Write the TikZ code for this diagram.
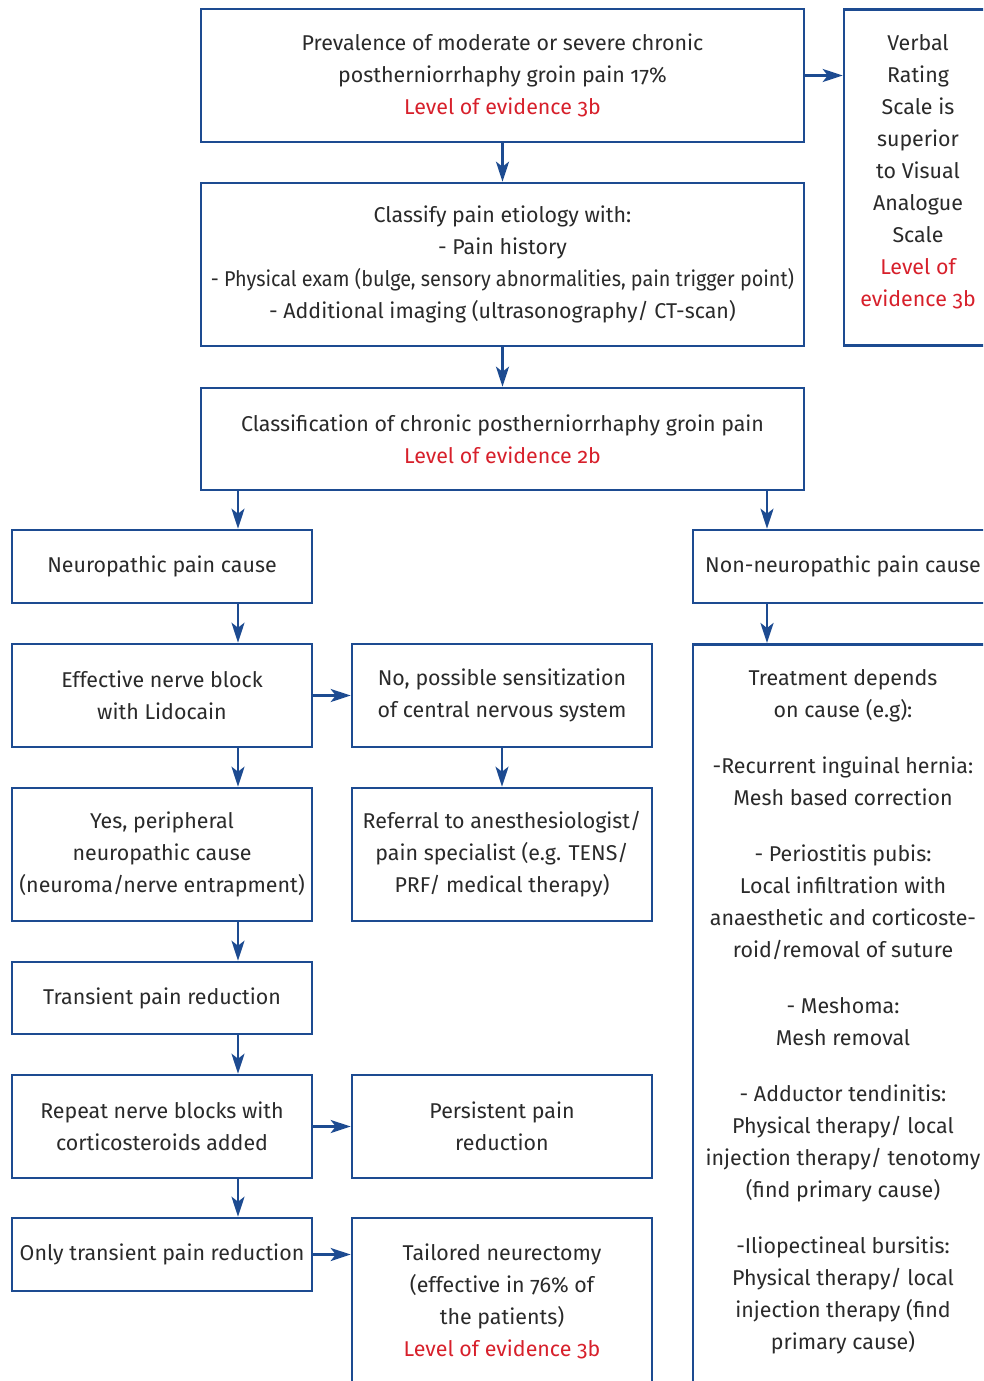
\documentclass[tikz,border=0pt]{standalone}
\usepackage{fontspec}
\setmainfont{Fira Sans}[Numbers=OldStyle]
\usetikzlibrary{arrows.meta,positioning}
\definecolor{flowblue}{HTML}{1D4B91}
\definecolor{evred}{HTML}{D7202B}
\definecolor{txtgray}{HTML}{2A2A2A}
\newcommand{\evid}[1]{\textcolor{evred}{#1}}
\tikzstyle{box} = [draw=flowblue, line width=2.6pt, rectangle, align=center, text=txtgray, inner sep=0pt, font=\fontsize{21.4}{32}\selectfont]
\tikzstyle{link} = [draw=flowblue, line width=2.6pt, -{Stealth[length=20pt,width=13pt,inset=5pt]}]

\begin{document}
\begin{tikzpicture}[x=1pt,y=-1pt]
        \useasboundingbox (0,0) rectangle (983,1381);
        \clip (0,0) rectangle (983,1381);

        \node[box, minimum width=603, minimum height=133] (prev) at (502.5,75.5) {Prevalence of moderate or severe chronic\\ postherniorrhaphy groin pain 17\%\\ \evid{Level of evidence 3b}};
        \node[box, minimum width=148, anchor=north, inner ysep=25pt, text depth=14pt] (vrs) at (918,8) {Verbal\\ Rating\\ Scale is\\ superior\\ to Visual\\ Analogue\\ Scale\\ \evid{Level of}\\ \evid{evidence 3b}};
        \node[box, minimum width=603, minimum height=163] (classify) at (502.5,264.5) {Classify pain etiology with:\\ - Pain history\\ \scalebox{0.925}[1]{- Physical exam (bulge, sensory abnormalities, pain trigger point)}\\ - Additional imaging (ultrasonography/ CT-scan)};
        \node[box, minimum width=603, minimum height=102] (classif) at (502.5,439) {Classification of chronic postherniorrhaphy groin pain\\ \evid{Level of evidence 2b}};

        \node[box, minimum width=300, minimum height=73] (neuro) at (162,566.5) {Neuropathic pain cause};
        \node[box, minimum width=300, minimum height=73] (nonneuro) at (843,566.5) {Non-neuropathic pain cause};

        \node[box, minimum width=300, minimum height=103] (effect) at (162,695.5) {Effective nerve block\\ with Lidocain};
        \node[box, minimum width=300, minimum height=103] (nosens) at (502,695.5) {No, possible sensitization\\ of central nervous system};
        \node[box, minimum width=300, minimum height=133] (yesper) at (162,854.5) {Yes, peripheral\\ neuropathic cause\\ (neuroma/nerve entrapment)};
        \node[box, minimum width=300, minimum height=133] (referral) at (502,854.5) {Referral to anesthesiologist/\\ pain specialist (e.g. TENS/\\ PRF/ medical therapy)};
        \node[box, minimum width=300, minimum height=72] (transient) at (162,998) {Transient pain reduction};
        \node[box, minimum width=300, minimum height=103] (repeat) at (162,1126.5) {Repeat nerve blocks with\\ corticosteroids added};
        \node[box, minimum width=300, minimum height=103] (persist) at (502,1126.5) {Persistent pain\\ reduction};
        \node[box, minimum width=300, minimum height=73] (onlytr) at (162,1254.5) {Only transient pain reduction};
        \node[box, minimum width=300, minimum height=166] (tailored) at (502,1301) {Tailored neurectomy\\ (effective in 76\% of\\ the patients)\\ \evid{Level of evidence 3b}};

        \node[box, minimum width=300, anchor=north, inner ysep=25pt, text depth=80pt] (treat) at (843,643) {Treatment depends\\ on cause (e.g):\\[24pt]
            -Recurrent inguinal hernia:\\ Mesh based correction\\[24pt]
            - Periostitis pubis:\\ Local infiltration with\\ anaesthetic and corticoste-\\ roid/removal of suture\\[24pt]
            - Meshoma:\\ Mesh removal\\[24pt]
            - Adductor tendinitis:\\ Physical therapy/ local\\ injection therapy/ tenotomy\\ (find primary cause)\\[24pt]
            -Iliopectineal bursitis:\\ Physical therapy/ local\\ injection therapy (find\\ primary cause)};

        \coordinate (nin) at ([xshift=76pt]neuro.north);
        \coordinate (nnin) at ([xshift=-76pt]nonneuro.north);
        \draw[link] (prev.east) -- (vrs.west |- prev.east);
        \draw[link] (prev.south) -- (classify.north);
        \draw[link] (classify.south) -- (classif.north);
        \draw[link] (nin |- classif.south) -- (nin);
        \draw[link] (nnin |- classif.south) -- (nnin);
        \draw[link] ([xshift=-76pt]nonneuro.south) -- ([xshift=-76pt]treat.north);
        \foreach \a/\b in {neuro/effect, effect/yesper, yesper/transient, transient/repeat, repeat/onlytr}
            \draw[link] ([xshift=76pt]\a.south) -- ([xshift=76pt]\b.north);
        \draw[link] (effect.east) -- (nosens.west);
        \draw[link] (nosens.south) -- (referral.north);
        \draw[link] (repeat.east) -- (persist.west);
        \draw[link] (onlytr.east) -- (tailored.west |- onlytr.east);

    \end{tikzpicture}
\end{document}
